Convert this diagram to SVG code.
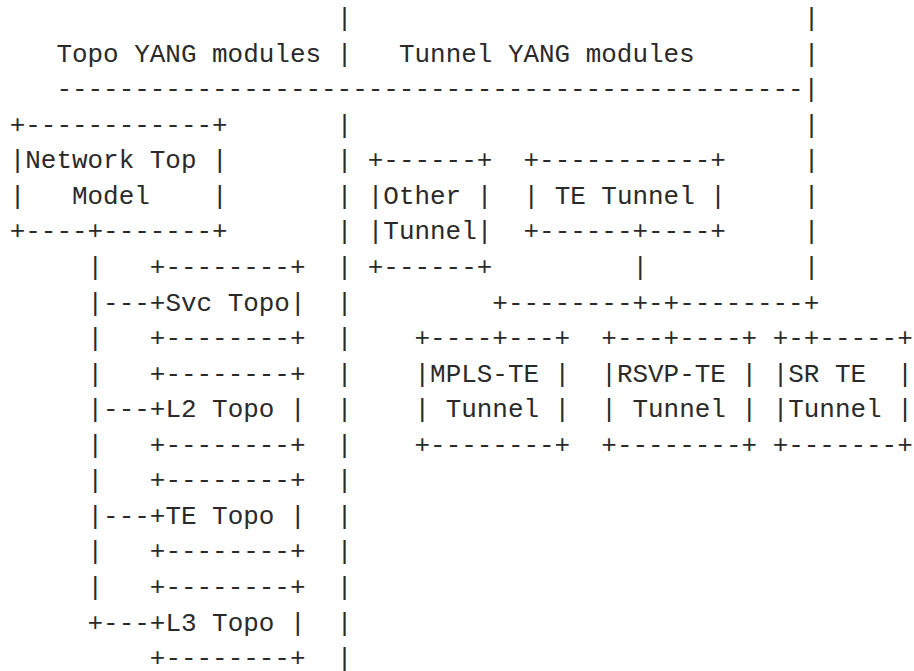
<svg xmlns="http://www.w3.org/2000/svg" width="914" height="671" viewBox="0 0 914 671" xml:space="preserve">
<style>
text{font-family:"Liberation Mono","DejaVu Sans Mono",monospace;font-size:25.95px;fill:#2a2a2a;white-space:pre}
</style>
<rect width="914" height="671" fill="#ffffff"/>
<g id="labels">
<text x="56.41" y="61.7">Topo YANG modules</text>
<text x="398.95" y="61.7">Tunnel YANG modules</text>
</g>
<g id="network-top-model">
<text x="9.7" y="132.8">+------------+</text>
<text x="9.7" y="168.35">|Network Top |</text>
<text x="9.7" y="203.9">|   Model    |</text>
<text x="9.7" y="239.45">+----+-------+</text>
</g>
<g id="svc-topo">
<text x="149.83" y="275.0">+--------+</text>
<text x="149.83" y="310.55">+Svc Topo|</text>
<text x="149.83" y="346.1">+--------+</text>
</g>
<g id="l2-topo">
<text x="149.83" y="381.65">+--------+</text>
<text x="149.83" y="417.2">+L2 Topo |</text>
<text x="149.83" y="452.75">+--------+</text>
</g>
<g id="te-topo">
<text x="149.83" y="488.3">+--------+</text>
<text x="149.83" y="523.85">+TE Topo |</text>
<text x="149.83" y="559.4">+--------+</text>
</g>
<g id="l3-topo">
<text x="149.83" y="594.95">+--------+</text>
<text x="149.83" y="630.5">+L3 Topo |</text>
<text x="149.83" y="666.05">+--------+</text>
</g>
<g id="other-tunnel">
<text x="367.81" y="168.35">+------+</text>
<text x="367.81" y="203.9">|Other |</text>
<text x="367.81" y="239.45">|Tunnel|</text>
<text x="367.81" y="275.0">+------+</text>
</g>
<g id="te-tunnel">
<text x="523.51" y="168.35">+-----------+</text>
<text x="523.51" y="203.9">| TE Tunnel |</text>
<text x="523.51" y="239.45">+------+----+</text>
</g>
<g id="mpls-te-tunnel">
<text x="414.52" y="346.1">+----+---+</text>
<text x="414.52" y="381.65">|MPLS-TE |</text>
<text x="414.52" y="417.2">| Tunnel |</text>
<text x="414.52" y="452.75">+--------+</text>
</g>
<g id="rsvp-te-tunnel">
<text x="601.36" y="346.1">+---+----+</text>
<text x="601.36" y="381.65">|RSVP-TE |</text>
<text x="601.36" y="417.2">| Tunnel |</text>
<text x="601.36" y="452.75">+--------+</text>
</g>
<g id="sr-te-tunnel">
<text x="772.63" y="346.1">+-+-----+</text>
<text x="772.63" y="381.65">|SR TE  |</text>
<text x="772.63" y="417.2">|Tunnel |</text>
<text x="772.63" y="452.75">+-------+</text>
</g>
<g id="connectors">
<text x="56.41" y="97.25">------------------------------------------------|</text>
<text x="336.67" y="26.15">|</text>
<text x="336.67" y="61.7">|</text>
<text x="336.67" y="132.8">|</text>
<text x="336.67" y="168.35">|</text>
<text x="336.67" y="203.9">|</text>
<text x="336.67" y="239.45">|</text>
<text x="336.67" y="275.0">|</text>
<text x="336.67" y="310.55">|</text>
<text x="336.67" y="346.1">|</text>
<text x="336.67" y="381.65">|</text>
<text x="336.67" y="417.2">|</text>
<text x="336.67" y="452.75">|</text>
<text x="336.67" y="488.3">|</text>
<text x="336.67" y="523.85">|</text>
<text x="336.67" y="559.4">|</text>
<text x="336.67" y="594.95">|</text>
<text x="336.67" y="630.5">|</text>
<text x="336.67" y="666.05">|</text>
<text x="803.77" y="26.15">|</text>
<text x="803.77" y="61.7">|</text>
<text x="803.77" y="132.8">|</text>
<text x="803.77" y="168.35">|</text>
<text x="803.77" y="203.9">|</text>
<text x="803.77" y="239.45">|</text>
<text x="803.77" y="275.0">|</text>
<text x="87.55" y="275.0">|</text>
<text x="87.55" y="310.55">|---</text>
<text x="87.55" y="346.1">|</text>
<text x="87.55" y="381.65">|</text>
<text x="87.55" y="417.2">|---</text>
<text x="87.55" y="452.75">|</text>
<text x="87.55" y="488.3">|</text>
<text x="87.55" y="523.85">|---</text>
<text x="87.55" y="559.4">|</text>
<text x="87.55" y="594.95">|</text>
<text x="87.55" y="630.5">+---</text>
<text x="632.5" y="275.0">|</text>
<text x="492.37" y="310.55">+--------+-+--------+</text>
</g>
</svg>
